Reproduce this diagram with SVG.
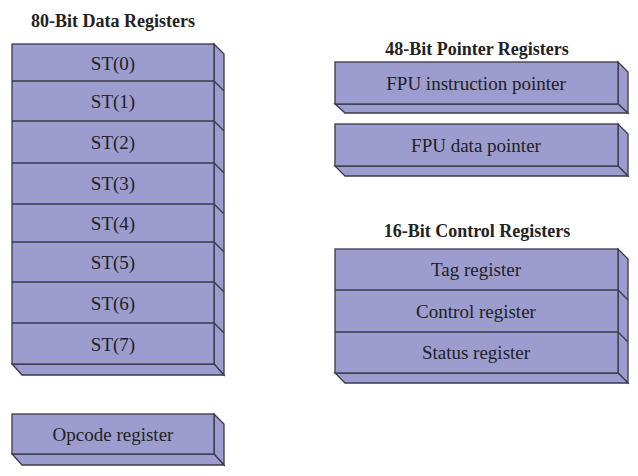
<svg xmlns="http://www.w3.org/2000/svg" width="638" height="476" viewBox="0 0 638 476">
<style>
.f{fill:#9c9cce;stroke:#3a3a48;stroke-width:1.3;stroke-linejoin:miter}
.d{fill:none;stroke:#3a3a48;stroke-width:1.3}
.t{font-family:"Liberation Serif","Times New Roman",serif;font-size:19px;fill:#222;text-anchor:middle}
.h{font-family:"Liberation Serif","Times New Roman",serif;font-size:18px;font-weight:bold;fill:#222;text-anchor:middle}
</style>
<rect width="638" height="476" fill="#fff"/>
<text class="h" x="113" y="27">80-Bit Data Registers</text>
<text class="h" x="477" y="55">48-Bit Pointer Registers</text>
<text class="h" x="477" y="237">16-Bit Control Registers</text>

<g id="data-registers">
<polygon class="f" points="214,44 224,54 224,375 214,364"/>
<polygon class="f" points="12,364 214,364 224,375 22,375"/>
<rect class="f" x="12" y="44" width="202" height="320"/>
<path class="d" d="M12,81H214l10,10M12,121H214l10,10M12,163H214l10,10M12,204H214l10,10M12,242H214l10,10M12,282H214l10,10M12,323H214l10,10"/>
<g id="st0"><text class="t" x="113" y="69.5">ST(0)</text></g>
<g id="st1"><text class="t" x="113" y="108">ST(1)</text></g>
<g id="st2"><text class="t" x="113" y="149">ST(2)</text></g>
<g id="st3"><text class="t" x="113" y="190">ST(3)</text></g>
<g id="st4"><text class="t" x="113" y="230">ST(4)</text></g>
<g id="st5"><text class="t" x="113" y="269">ST(5)</text></g>
<g id="st6"><text class="t" x="113" y="309.5">ST(6)</text></g>
<g id="st7"><text class="t" x="113" y="350.5">ST(7)</text></g>
</g>

<g id="opcode-register">
<polygon class="f" points="214,414 224,424 224,465 214,454"/>
<polygon class="f" points="12,454 214,454 224,465 22,465"/>
<rect class="f" x="12" y="414" width="202" height="40"/>
<text class="t" x="113" y="441">Opcode register</text>
</g>

<g id="fpu-instruction-pointer">
<polygon class="f" points="618,62 628,72 628,113 618,104"/>
<polygon class="f" points="335,104 618,104 628,113 345,113"/>
<rect class="f" x="335" y="62" width="283" height="42"/>
<text class="t" x="476" y="90">FPU instruction pointer</text>
</g>

<g id="fpu-data-pointer">
<polygon class="f" points="618,124 628,134 628,176 618,166"/>
<polygon class="f" points="335,166 618,166 628,176 345,176"/>
<rect class="f" x="335" y="124" width="283" height="42"/>
<text class="t" x="476" y="152">FPU data pointer</text>
</g>

<g id="control-registers">
<polygon class="f" points="618,249 628,259 628,383 618,373"/>
<polygon class="f" points="335,373 618,373 628,383 345,383"/>
<rect class="f" x="335" y="249" width="283" height="124"/>
<path class="d" d="M335,290H618l10,10M335,332H618l10,10"/>
<g id="tag"><text class="t" x="476" y="276">Tag register</text></g>
<g id="control"><text class="t" x="476" y="318">Control register</text></g>
<g id="status"><text class="t" x="476" y="359">Status register</text></g>
</g>
</svg>
